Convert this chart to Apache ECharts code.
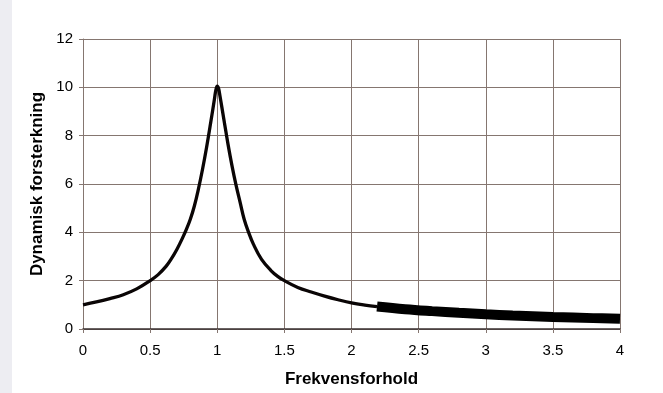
<!DOCTYPE html>
<html>
<head>
<meta charset="utf-8">
<script src="https://cdn.jsdelivr.net/npm/echarts@6/dist/echarts.min.js"></script>
<style>
  html, body { margin: 0; padding: 0; background: #ffffff; }
  #chart { width: 663px; height: 393px; }
</style>
</head>
<body>
<div id="chart"></div>
<script>
// Frequency ratio and dynamic amplification (thin part of the curve)
const ratioLow = [0, 0.1, 0.2, 0.3, 0.4, 0.5, 0.56, 0.62, 0.66, 0.7, 0.74, 0.77, 0.8, 0.83, 0.86, 0.89, 0.92, 0.95, 0.98, 0.99, 1.0,
                  1.01, 1.02, 1.05, 1.08, 1.11, 1.14, 1.17, 1.2, 1.23, 1.27, 1.33, 1.4, 1.45, 1.5, 1.6, 1.7, 1.8, 1.9, 2.0, 2.1, 2.19];
const ampLow   = [1.0, 1.12, 1.26, 1.42, 1.66, 2.0, 2.25, 2.6, 2.92, 3.3, 3.75, 4.12, 4.55, 5.1, 5.8, 6.6, 7.5, 8.5, 9.55, 9.9, 10.05,
                  9.95, 9.65, 8.65, 7.65, 6.75, 5.95, 5.25, 4.55, 4.05, 3.5, 2.88, 2.42, 2.18, 2.0, 1.72, 1.53, 1.36, 1.21, 1.08, 0.99, 0.93];

// High-ratio range drawn with a heavy stroke
const ratioHigh = [2.19, 2.4, 2.6, 2.8, 3.0, 3.2, 3.5, 3.8, 4.0];
const ampHigh   = [0.93, 0.82, 0.74, 0.67, 0.61, 0.56, 0.5, 0.45, 0.42];

const xTicks = ['0', '0.5', '1', '1.5', '2', '2.5', '3', '3.5', '4'];
const yTicks = ['0', '2', '4', '6', '8', '10', '12'];

const pairs = (xs, ys) => xs.map((x, i) => [x, ys[i]]);

const chart = echarts.init(document.getElementById('chart'), null, { renderer: 'canvas' });
const gridColor = '#857670';
const font = '"Liberation Sans", Arial, sans-serif';

chart.setOption({
  animation: false,
  backgroundColor: '#ffffff',
  graphic: [{
    type: 'rect', left: 0, top: 0, z: -10,
    shape: { width: 12, height: 393 },
    style: { fill: '#ededf2' }
  }],
  grid: { left: 83, right: 43, top: 39, bottom: 62, containLabel: false },
  xAxis: {
    type: 'value', min: 0, max: 4, interval: 0.5,
    name: 'Frekvensforhold', nameLocation: 'middle', nameGap: 42,
    nameTextStyle: { fontFamily: font, fontSize: 17, fontWeight: 'bold', color: '#000' },
    axisLine: { show: true, lineStyle: { color: '#3a3030', width: 1.5 } },
    axisTick: { show: true, length: 4, lineStyle: { color: gridColor } },
    axisLabel: {
      margin: 14, fontFamily: font, fontSize: 15, color: '#000',
      formatter: (v) => { const i = Math.round(v / 0.5); return xTicks[i] !== undefined ? xTicks[i] : ''; }
    },
    splitLine: { show: true, lineStyle: { color: gridColor, width: 1 } }
  },
  yAxis: {
    type: 'value', min: 0, max: 12, interval: 2,
    name: 'Dynamisk forsterkning', nameLocation: 'middle', nameGap: 32, nameRotate: 90,
    nameTextStyle: { fontFamily: font, fontSize: 17, fontWeight: 'bold', color: '#000' },
    axisLine: { show: true, lineStyle: { color: gridColor, width: 1 } },
    axisTick: { show: true, length: 4, lineStyle: { color: gridColor } },
    axisLabel: {
      margin: 10, fontFamily: font, fontSize: 15, color: '#000',
      formatter: (v) => { const i = Math.round(v / 2); return yTicks[i] !== undefined ? yTicks[i] : ''; }
    },
    splitLine: { show: true, lineStyle: { color: gridColor, width: 1 } }
  },
  series: [
    {
      type: 'line', data: pairs(ratioLow, ampLow),
      smooth: 0.4, showSymbol: false,
      lineStyle: { color: '#0a0505', width: 3.3 }
    },
    {
      type: 'line', data: pairs(ratioHigh, ampHigh),
      smooth: 0.4, showSymbol: false,
      lineStyle: { color: '#000000', width: 10, cap: 'butt' }
    }
  ]
});
</script>
</body>
</html>
